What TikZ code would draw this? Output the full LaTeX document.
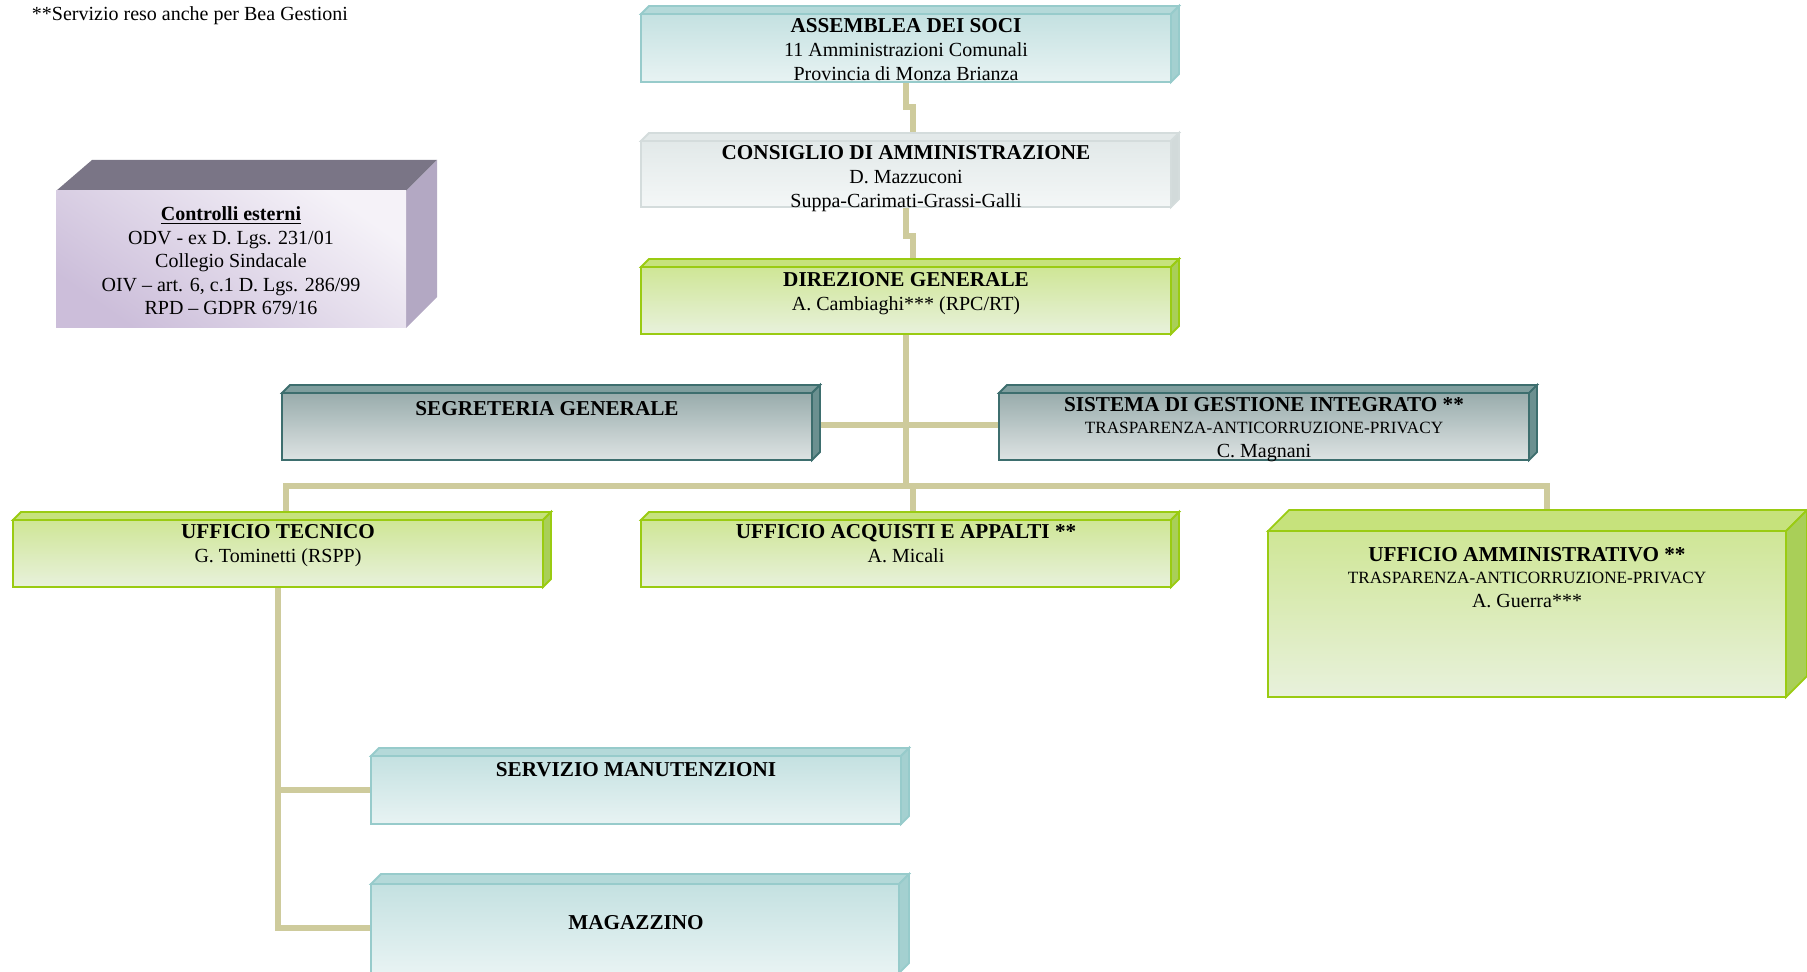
\documentclass[tikz,border=0pt]{standalone}
\usepackage{fontspec}
\setmainfont{Liberation Serif}
\usetikzlibrary{fit,calc}

\definecolor{conncol}{HTML}{CECB9C}
% green palette
\definecolor{grnA}{HTML}{CFE696}
\definecolor{grnB}{HTML}{E8F1DC}
\definecolor{grnbd}{HTML}{9ACB12}
\definecolor{grntop}{HTML}{C6E27C}
\definecolor{grnside}{HTML}{A9CF58}
% cyan palette
\definecolor{cyaA}{HTML}{C4E1E1}
\definecolor{cyaB}{HTML}{E8F3F3}
\definecolor{cyabd}{HTML}{97CBCB}
\definecolor{cyatop}{HTML}{B4D9D9}
\definecolor{cyaside}{HTML}{A4D0D0}
% pale grey palette
\definecolor{palA}{HTML}{E2E9E9}
\definecolor{palB}{HTML}{F4F7F7}
\definecolor{palbd}{HTML}{D4DCDC}
\definecolor{paltop}{HTML}{E3E9E9}
\definecolor{palside}{HTML}{D2DADA}
% dark teal palette
\definecolor{drkA}{HTML}{99ACAC}
\definecolor{drkB}{HTML}{DDE3E3}
\definecolor{drkbd}{HTML}{3D6E6E}
\definecolor{drktop}{HTML}{7F9E9E}
\definecolor{drkside}{HTML}{6B9090}
% lavender
\definecolor{lavA}{HTML}{F5F2F8}
\definecolor{lavB}{HTML}{CCBEDA}
\definecolor{lavtop}{HTML}{7A7586}
\definecolor{lavside}{HTML}{B3A8C3}

\tikzset{
  every node/.style={inner sep=0pt, outer sep=0pt},
  conn/.style={draw=conncol, line width=2.6pt},
  txt/.style={align=center, anchor=north, font=\fontsize{10}{12}\selectfont},
  bdr/.style={line width=0.9pt, line join=miter},
}
\newcommand\ttl[1]{{\fontsize{10.6}{12}\selectfont\bfseries #1}}
\newcommand\sml[1]{{\fontsize{8.6}{11}\selectfont #1}}

% #1 name, #2 x1, #3 y1, #4 x2, #5 y2, #6 depth, #7 palette
\newcommand\obox[7]{%
  \filldraw[fill=#7top, draw=#7bd, bdr] (#2,#3) -- (#2+#6,#3-#6) -- (#4+#6,#3-#6) -- (#4,#3) -- cycle;
  \filldraw[fill=#7side, draw=#7bd, bdr] (#4,#3) -- (#4+#6,#3-#6) -- (#4+#6,#5-#6) -- (#4,#5) -- cycle;
  \node[fit={(#2,#3)(#4,#5)}, top color=#7A, bottom color=#7B, draw=#7bd, bdr] (#1) {};
}

\begin{document}
\begin{tikzpicture}[x=0.5pt, y=-0.5pt]
\useasboundingbox (0,0) rectangle (1807,972);

% ---------- connector points
\coordinate (busL) at (286,486);
\coordinate (busM) at (906,486);
\coordinate (busR) at (1547,486);
\coordinate (j1a) at (906,107);
\coordinate (j1b) at (913,107);
\coordinate (j2a) at (906,236);
\coordinate (j2b) at (913,236);
\coordinate (jm) at (913,486);
\coordinate (asmB) at (906,82);
\coordinate (cdaN) at (913,141);
\coordinate (cdaB) at (906,207);
\coordinate (dgN) at (913,267);
\coordinate (dgB) at (906,334);
\coordinate (sgE) at (812,425);
\coordinate (sgiW) at (999,425);
\coordinate (utN) at (286,520);
\coordinate (uaaN) at (913,520);
\coordinate (uamN) at (1547,531);
\coordinate (utB) at (278,587);
\coordinate (smW) at (371,790);
\coordinate (magW) at (371,928);
\coordinate (smJ) at (278,790);
\coordinate (magJ) at (278,928);

% ---------- connectors (drawn first, boxes cover their ends)
\draw[conn] (asmB) -- (j1a) -- (j1b) -- (cdaN);
\draw[conn] (cdaB) -- (j2a) -- (j2b) -- (dgN);
\draw[conn] (dgB) -- (busM);
\draw[conn] (sgE) -- (sgiW);
\draw[conn] (utN) -- (busL) -- (busR) -- (uamN);
\draw[conn] (jm) -- (uaaN);
\draw[conn] (utB) -- (magJ) -- (magW);
\draw[conn] (smJ) -- (smW);

% ---------- boxes
\obox{asm}{641}{14}{1171}{82}{8}{cya}
\obox{cda}{641}{141}{1171}{207}{8}{pal}
\obox{dg}{641}{267}{1171}{334}{8}{grn}
\obox{sg}{282}{393}{812}{460}{8}{drk}
\obox{sgi}{999}{393}{1529}{460}{8}{drk}
\obox{ut}{13}{520}{543}{587}{8}{grn}
\obox{uaa}{641}{520}{1171}{587}{8}{grn}
\obox{uam}{1268}{531}{1786}{697}{21}{grn}
\obox{sm}{371}{756}{901}{824}{8}{cya}
\obox{mag}{371}{884}{899}{973}{10}{cya}

% controlli esterni (no border)
\fill[lavtop] (56,191) -- (92,160) -- (437,160) -- (406,191) -- cycle;
\fill[lavside] (406,191) -- (437,160) -- (437,297) -- (406,328) -- cycle;
\node[fit={(56,191)(406,328)}, top color=lavA, bottom color=lavB, shading angle=-35] (ce) {};

% ---------- texts
\node[anchor=base west, font=\fontsize{10}{12}\selectfont] (fn) at (32,21) {**Servizio reso anche per Bea Gestioni};
\node[txt] (asmT) at (906,18) {\ttl{ASSEMBLEA DEI SOCI}\\11 Amministrazioni Comunali\\Provincia di Monza Brianza};
\node[txt] (cdaT) at (906,145) {\ttl{CONSIGLIO DI AMMINISTRAZIONE}\\D. Mazzuconi\\Suppa-Carimati-Grassi-Galli};
\node[txt] (dgT) at (906,272) {\ttl{DIREZIONE GENERALE}\\A. Cambiaghi*** (RPC/RT)};
\node[txt] (sgT) at (547,401) {\ttl{SEGRETERIA GENERALE}};
\node[txt] (sgiT) at (1264,397) {\ttl{SISTEMA DI GESTIONE INTEGRATO **}\\[-1pt]\sml{TRASPARENZA-ANTICORRUZIONE-PRIVACY}\\C. Magnani};
\node[txt] (utT) at (278,524) {\ttl{UFFICIO TECNICO}\\G. Tominetti (RSPP)};
\node[txt] (uaaT) at (906,524) {\ttl{UFFICIO ACQUISTI E APPALTI **}\\A. Micali};
\node[txt] (uamT) at (1527,547) {\ttl{UFFICIO AMMINISTRATIVO **}\\[-1pt]\sml{TRASPARENZA-ANTICORRUZIONE-PRIVACY}\\A. Guerra***};
\node[txt] (smT) at (636,762) {\ttl{SERVIZIO MANUTENZIONI}};
\node[txt] (magT) at (636,915) {\ttl{MAGAZZINO}};
\node[txt, font=\fontsize{10}{11.7}\selectfont] (ceT) at (231,207) {\textbf{\underline{Controlli esterni}}\\ODV - ex D. Lgs. 231/01\\Collegio Sindacale\\OIV – art. 6, c.1 D. Lgs. 286/99\\RPD – GDPR 679/16};

\end{tikzpicture}
\end{document}
